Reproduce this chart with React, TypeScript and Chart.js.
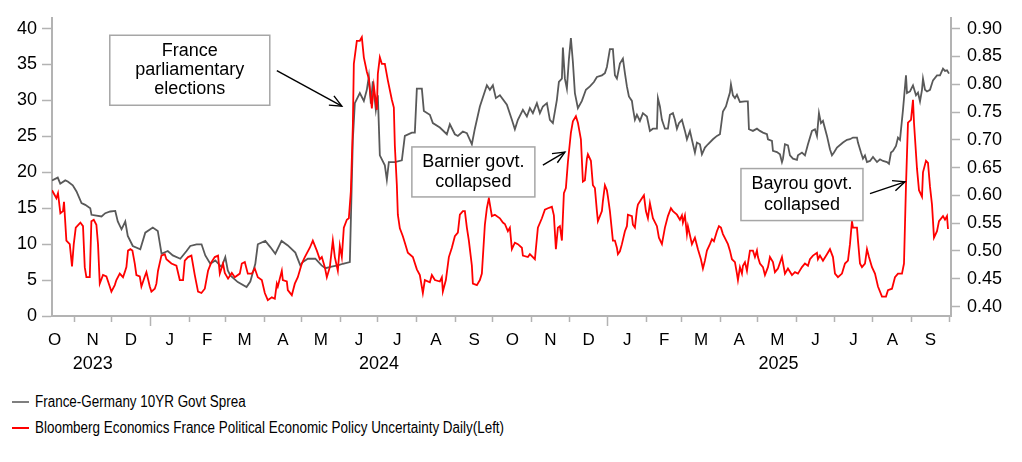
import React, { useEffect, useRef } from "react";
import { Chart, registerables } from "chart.js";

Chart.register(...registerables);

// x values are days counted from 2023-10-01 (day 0)
const START_YEAR = 2023;
const START_MONTH = 9; // October (0-based)
const X_MIN = 13.4;
const X_MAX = 732.4;

const monthLetters = ["O", "N", "D", "J", "F", "M", "A", "M", "J", "J", "A", "S", "O", "N", "D", "J", "F", "M", "A", "M", "J", "J", "A", "S"];
const yearLabels = ["2023", "2024", "2025"];
const leftTicks = [0, 5, 10, 15, 20, 25, 30, 35, 40];
const rightTicks = [0.4, 0.45, 0.5, 0.55, 0.6, 0.65, 0.7, 0.75, 0.8, 0.85, 0.9];
const legendLabels = [
  "France-Germany 10YR Govt Sprea",
  "Bloomberg Economics France Political Economic Policy Uncertainty Daily(Left)",
];

// France-Germany 10Y spread (right axis)
const spreadDays = [13.4, 18, 20, 24, 26, 30, 33, 37, 40, 44, 45, 53, 56, 60, 64, 66, 69, 72, 74, 78, 84, 88, 94, 98, 101, 106, 110, 116, 121, 124, 129, 133, 136, 140, 144, 149, 152, 154, 156, 162, 169, 172, 176, 178, 184, 188, 192, 197, 202, 208, 212, 214, 218, 224, 229, 232, 237, 242, 246, 251.6, 254, 255.6, 259.6, 262.8, 265.2, 266.8, 268.4, 270, 272.4, 274, 275.6, 279.6, 281.2, 282.8, 287.6, 293.2, 295.6, 301.2, 303.6, 305.2, 309.2, 310.8, 315.6, 318, 323.6, 329.2, 331.6, 335.6, 338, 342, 345.2, 349.2, 351.6, 355.6, 361.2, 363.6, 366, 368.4, 371.6, 377.2, 381.2, 383.6, 386, 390, 393.2, 395.6, 398, 401.2, 403.6, 406, 409.2, 411.6, 414, 417.2, 418.8, 421.2, 422, 423.6, 425.2, 426.8, 428.4, 430, 431.6, 434, 437.2, 440.4, 443.6, 446.8, 449.2, 453.2, 455.6, 457.2, 459.6, 462, 463.6, 465.2, 467.6, 470, 471.6, 473.2, 474.8, 477.2, 478, 479.6, 481.2, 483.6, 486, 489.2, 491.6, 494, 497.2, 498, 499.6, 501.2, 503.6, 506, 507.6, 510, 511.6, 513.2, 514.8, 517.2, 519.6, 521.2, 523.6, 525.2, 527.6, 529.2, 531.6, 533.2, 535.6, 538, 542, 545.2, 547.6, 550, 552.4, 553.9, 555.6, 556.4, 558, 559.6, 561.2, 563.6, 567.6, 569.9, 570.8, 574, 577.2, 579.6, 582, 585.2, 586, 589.2, 590, 593.2, 595.6, 597.2, 598, 599.6, 602, 603.6, 606, 609.2, 610, 613.2, 615.6, 618, 621.2, 623.6, 625.2, 626.8, 628.4, 630, 633.2, 635.6, 637.2, 638.8, 641.2, 646, 649.2, 651.6, 654, 657.2, 658, 660.4, 662, 663.6, 665.2, 667.6, 670, 673.2, 675.6, 678, 681.2, 682.8, 684.4, 686, 688.4, 690, 691.6, 694, 696.4, 697.2, 699.6, 702, 704.4, 706, 707.6, 709.2, 710, 711.6, 713.2, 715.6, 718, 721.2, 723.6, 726, 727.6, 729.2, 730.8];
const spreadValues = [0.627, 0.632, 0.621, 0.627, 0.625, 0.618, 0.607, 0.586, 0.583, 0.577, 0.565, 0.562, 0.568, 0.571, 0.572, 0.553, 0.539, 0.553, 0.527, 0.509, 0.503, 0.533, 0.542, 0.536, 0.495, 0.5, 0.492, 0.486, 0.5, 0.509, 0.512, 0.512, 0.492, 0.477, 0.483, 0.471, 0.489, 0.465, 0.456, 0.444, 0.435, 0.445, 0.477, 0.512, 0.518, 0.507, 0.495, 0.518, 0.51, 0.497, 0.474, 0.48, 0.486, 0.486, 0.474, 0.469, 0.472, 0.474, 0.477, 0.48, 0.7, 0.766, 0.784, 0.77, 0.79, 0.814, 0.765, 0.805, 0.754, 0.78, 0.672, 0.654, 0.628, 0.66, 0.66, 0.663, 0.707, 0.713, 0.713, 0.792, 0.792, 0.752, 0.745, 0.73, 0.722, 0.71, 0.728, 0.71, 0.707, 0.715, 0.712, 0.692, 0.72, 0.76, 0.798, 0.79, 0.798, 0.775, 0.78, 0.763, 0.736, 0.719, 0.736, 0.754, 0.742, 0.757, 0.748, 0.766, 0.748, 0.76, 0.766, 0.736, 0.73, 0.772, 0.804, 0.81, 0.866, 0.81, 0.792, 0.845, 0.883, 0.84, 0.784, 0.757, 0.77, 0.79, 0.796, 0.804, 0.813, 0.816, 0.82, 0.831, 0.863, 0.863, 0.816, 0.81, 0.837, 0.846, 0.82, 0.796, 0.778, 0.77, 0.757, 0.736, 0.745, 0.734, 0.748, 0.742, 0.716, 0.72, 0.72, 0.775, 0.76, 0.736, 0.72, 0.72, 0.745, 0.748, 0.736, 0.72, 0.73, 0.736, 0.716, 0.701, 0.716, 0.7, 0.677, 0.695, 0.692, 0.674, 0.686, 0.692, 0.701, 0.707, 0.71, 0.751, 0.76, 0.772, 0.785, 0.8, 0.78, 0.775, 0.781, 0.768, 0.769, 0.769, 0.719, 0.716, 0.72, 0.716, 0.713, 0.71, 0.701, 0.698, 0.68, 0.678, 0.674, 0.66, 0.666, 0.692, 0.69, 0.672, 0.666, 0.664, 0.672, 0.677, 0.672, 0.692, 0.716, 0.719, 0.707, 0.748, 0.73, 0.734, 0.707, 0.683, 0.672, 0.677, 0.686, 0.695, 0.7, 0.701, 0.704, 0.704, 0.695, 0.677, 0.666, 0.672, 0.66, 0.662, 0.669, 0.66, 0.665, 0.662, 0.66, 0.657, 0.677, 0.68, 0.689, 0.704, 0.7, 0.754, 0.816, 0.784, 0.787, 0.798, 0.78, 0.785, 0.769, 0.79, 0.81, 0.79, 0.787, 0.79, 0.807, 0.816, 0.816, 0.828, 0.824, 0.825, 0.819];

// Bloomberg Economics France political EPU (left axis)
const epuDays = [13.4, 15.6, 16.9, 18.2, 20.1, 22.2, 23, 24.9, 27.6, 29.4, 30.8, 32.4, 36.1, 38.2, 39.6, 40.9, 43.6, 44.9, 46.8, 48.9, 50.2, 51.6, 54.2, 56.9, 59.6, 60.9, 63.6, 64.9, 67.6, 70.2, 71.6, 72.9, 74.2, 76.1, 77.7, 79.6, 80.9, 83.6, 84.9, 87.6, 88.9, 91.6, 92.9, 95.6, 96.9, 98.2, 100.9, 103.6, 104.9, 108.9, 112.9, 115.6, 118.2, 119.6, 122.2, 124.9, 127.6, 130.2, 132.9, 135.6, 138.2, 140.9, 143.6, 146.2, 147.6, 150.2, 151.6, 154.2, 157.2, 159.6, 163.6, 165.2, 167.6, 170, 173.2, 175.6, 178, 181.2, 183.6, 186, 189.2, 191.6, 193.2, 194, 197.2, 198, 201.2, 202, 205.2, 207.6, 210, 213.2, 215.6, 219.6, 222, 225.2, 227.6, 229.2, 231.6, 233.2, 235.6, 238, 239.6, 242, 243.6, 245.2, 246.8, 249.2, 250.8, 252.4, 254, 254.8, 257.2, 259.6, 261.2, 262.8, 265.2, 266.8, 269.2, 270.8, 273.2, 274, 275.6, 277.2, 279.6, 282, 285.2, 286.8, 287.6, 289.2, 290, 291.6, 294, 295.6, 298, 302, 305.2, 307.6, 310, 311.6, 315.6, 317.2, 319.6, 323.6, 325.2, 326, 328.4, 330.8, 333.2, 335.6, 338, 339.6, 342, 343.6, 345.2, 346.8, 349.2, 350, 353.2, 355.6, 357.2, 359.6, 361.2, 362.8, 365.2, 367.6, 371.6, 374, 375.6, 378, 379.6, 381.2, 383.6, 386, 389.2, 390, 394, 395.6, 399.6, 402, 405.2, 407.6, 410, 413.2, 414.8, 416.4, 418, 419.6, 421.2, 422.8, 424.4, 426, 428.4, 430, 432.4, 434, 436.4, 438, 439.6, 441.2, 442, 444.4, 446, 447.6, 449.2, 450, 453.2, 454, 455.6, 457.2, 458, 459.6, 462, 463.6, 465.2, 466, 467.6, 469.2, 471.6, 473.2, 474, 477.2, 478, 479.6, 481.2, 482, 485.2, 486.8, 488.4, 490, 491.6, 494, 497.2, 498.8, 501.2, 503.6, 506, 508.4, 510, 513.2, 515.6, 517.2, 518, 519.6, 521.2, 522, 525.2, 527.6, 530, 532.4, 534, 535.6, 537.2, 539.6, 541.2, 542.8, 545.2, 546.8, 548.4, 550, 554, 555.6, 557.2, 559.6, 561.2, 562, 563.6, 565.2, 566, 567.6, 569.2, 570, 571.6, 574, 575.6, 577.2, 578, 579.6, 582, 583.6, 586, 587.6, 590, 591.6, 594, 597.2, 599.6, 602, 605.2, 607.6, 610, 613.2, 615.6, 618, 619.6, 622, 625.2, 626, 627.6, 630, 633.2, 635.6, 638, 639.6, 642, 645.2, 647.6, 650, 651.6, 653.2, 654, 657.2, 658, 659.6, 661.2, 663.6, 665.2, 666.8, 669.2, 671.6, 674, 677.2, 680.4, 682, 685.2, 687.6, 690, 693.2, 694.8, 696.4, 698, 700.4, 702, 702.8, 705.2, 706.8, 709.2, 710, 712.4, 714, 715.6, 717.2, 718.8, 721.2, 722.8, 726, 727.6, 729.2, 730];
const epuValues = [17.5, 16.8, 16.4, 17.1, 14.3, 14.6, 15.9, 10.5, 10.0, 6.9, 10.0, 12.3, 13.0, 12.5, 6.8, 5.4, 5.4, 13.2, 13.4, 12.7, 10.0, 4.5, 5.7, 5.5, 4.1, 3.4, 4.3, 5.0, 5.9, 5.4, 6.1, 6.8, 9.1, 9.3, 9.1, 7.3, 5.7, 5.5, 4.1, 5.5, 6.1, 4.1, 3.4, 3.8, 4.5, 6.3, 8.4, 8.6, 7.9, 7.3, 7.0, 5.0, 5.0, 7.7, 8.2, 8.4, 5.7, 3.4, 3.2, 3.8, 6.3, 7.5, 8.2, 8.4, 5.9, 7.3, 6.0, 5.2, 6.0, 5.4, 5.9, 7.3, 7.5, 5.9, 5.9, 6.6, 5.4, 5.0, 3.2, 2.2, 2.6, 2.4, 4.5, 4.1, 6.3, 5.0, 4.8, 3.6, 2.9, 4.5, 5.4, 7.3, 8.2, 9.5, 10.5, 9.1, 7.9, 8.2, 6.8, 5.4, 6.8, 10.5, 8.2, 6.3, 9.8, 8.2, 12.3, 13.4, 13.6, 17.3, 26.4, 35.1, 38.3, 38.3, 38.8, 36.0, 34.0, 33.0, 28.9, 32.0, 28.7, 33.7, 36.0, 35.1, 35.1, 32.8, 30.1, 29.0, 23.7, 18.2, 14.1, 12.2, 11.1, 10.2, 8.8, 8.2, 6.5, 5.7, 3.2, 5.0, 4.7, 5.7, 5.0, 4.8, 5.4, 3.4, 5.0, 8.2, 9.5, 11.1, 11.6, 14.1, 14.6, 14.6, 12.3, 10.5, 7.0, 4.5, 4.3, 5.0, 5.9, 12.7, 15.0, 16.4, 13.9, 14.1, 13.6, 13.0, 12.8, 11.8, 12.3, 9.3, 10.2, 10.0, 9.5, 8.4, 8.2, 8.6, 7.9, 12.3, 13.6, 14.8, 15.0, 15.2, 14.0, 9.3, 12.3, 12.5, 10.5, 17.1, 17.8, 21.4, 25.5, 27.1, 27.8, 26.9, 24.6, 18.7, 18.9, 21.9, 22.5, 21.6, 18.2, 17.8, 14.6, 13.2, 14.6, 16.0, 18.2, 17.5, 16.6, 14.6, 10.5, 10.5, 9.5, 8.6, 9.0, 10.0, 11.8, 12.5, 14.1, 13.9, 12.7, 12.3, 14.8, 15.5, 16.4, 16.8, 14.6, 13.6, 15.7, 13.6, 12.5, 10.9, 10.0, 12.3, 13.9, 15.0, 14.6, 14.1, 13.4, 14.0, 13.0, 14.0, 11.4, 12.5, 10.0, 10.9, 9.3, 7.9, 6.6, 7.7, 9.1, 10.0, 10.7, 10.4, 11.8, 12.5, 12.3, 11.4, 10.0, 9.1, 7.9, 7.5, 5.9, 5.0, 6.8, 5.9, 7.0, 7.5, 6.3, 7.3, 9.1, 9.1, 8.2, 9.1, 8.2, 7.3, 6.8, 5.7, 6.8, 8.2, 7.5, 6.1, 6.6, 8.2, 5.9, 6.6, 5.7, 6.1, 5.9, 6.8, 7.3, 7.0, 7.9, 8.4, 8.8, 7.9, 8.4, 7.7, 8.6, 9.3, 8.2, 5.9, 5.4, 5.9, 7.3, 7.7, 10.0, 13.2, 12.3, 12.3, 10.5, 7.3, 6.8, 7.3, 9.3, 8.2, 6.8, 5.9, 4.1, 2.7, 2.7, 3.6, 3.8, 5.4, 5.9, 5.9, 7.3, 18.2, 26.9, 27.3, 30.1, 26.9, 20.5, 17.5, 16.6, 20.0, 21.6, 21.3, 18.0, 15.5, 10.9, 11.8, 13.2, 13.9, 13.4, 13.9, 12.1];

// Call-out boxes, anchored in data space (day, left-axis value)
const callouts = [
  { lines: ["France", "parliamentary", "elections"], boxDay: 123.6, boxValue: 34.2, width: 160, height: 70, lineHeight: 19, fromDay: 193.2, fromValue: 34.15, toDay: 245.2, toValue: 29.2 },
  { lines: ["Barnier govt.", "collapsed"], boxDay: 350.4, boxValue: 20.05, width: 123, height: 50, lineHeight: 20, fromDay: 406, fromValue: 21.0, toDay: 423.6, toValue: 22.8 },
  { lines: ["Bayrou govt.", "collapsed"], boxDay: 613.2, boxValue: 16.9, width: 122, height: 52, lineHeight: 21, fromDay: 667.6, fromValue: 17.03, toDay: 695.6, toValue: 18.67 },
];

const FONT = '"Liberation Sans", Arial, Helvetica, sans-serif';
const AXIS_GRAY = "#b3b3b3";
const SPREAD_COLOR = "#595959";
const EPU_COLOR = "#ff0000";

const DAY_MS = 86400000;
const BASE = Date.UTC(START_YEAR, START_MONTH, 1);
const monthStarts: number[] = [];
const monthIsJan: boolean[] = [];
for (let i = 0; i <= monthLetters.length; i++) {
  const t = Date.UTC(START_YEAR, START_MONTH + i, 1);
  monthStarts.push(Math.round((t - BASE) / DAY_MS));
  monthIsJan.push(new Date(t).getUTCMonth() === 0);
}
const monthMids = monthLetters.map((_, i) => (monthStarts[i] + monthStarts[i + 1]) / 2);
const boundaryTicks = monthStarts.filter((d) => d >= X_MIN && d <= X_MAX);
const janSet = new Set(monthStarts.filter((_, i) => monthIsJan[i]));
const yearMids = yearLabels.map((y) => {
  const yr = Number(y);
  const ds = monthStarts.filter((_, i) => {
    const dt = new Date(Date.UTC(START_YEAR, START_MONTH + i, 1));
    return dt.getUTCFullYear() === yr || (dt.getUTCFullYear() === yr + 1 && dt.getUTCMonth() === 0);
  });
  return (Math.min(...ds) + Math.max(...ds)) / 2;
});

const calloutPlugin = {
  id: "callouts",
  afterDatasetsDraw(chart: any) {
    const { ctx, scales } = chart;
    const xs = scales.x;
    const ys = scales.y;
    ctx.save();
    for (const a of callouts) {
      const cx = xs.getPixelForValue(a.boxDay);
      const cy = ys.getPixelForValue(a.boxValue);
      const left = cx - a.width / 2;
      const top = cy - a.height / 2;
      ctx.fillStyle = "#ffffff";
      ctx.fillRect(left, top, a.width, a.height);
      ctx.strokeStyle = "#a6a6a6";
      ctx.lineWidth = 1.5;
      ctx.strokeRect(left, top, a.width, a.height);
      ctx.fillStyle = "#000000";
      ctx.font = `18px ${FONT}`;
      ctx.textAlign = "center";
      ctx.textBaseline = "middle";
      const n = a.lines.length;
      a.lines.forEach((t, i) => ctx.fillText(t, cx, cy + (i - (n - 1) / 2) * a.lineHeight));
      const x1 = xs.getPixelForValue(a.fromDay);
      const y1 = ys.getPixelForValue(a.fromValue);
      const x2 = xs.getPixelForValue(a.toDay);
      const y2 = ys.getPixelForValue(a.toValue);
      ctx.strokeStyle = "#000000";
      ctx.lineWidth = 1.4;
      ctx.beginPath();
      ctx.moveTo(x1, y1);
      ctx.lineTo(x2, y2);
      ctx.stroke();
      const ang = Math.atan2(y2 - y1, x2 - x1);
      const hl = 13;
      const ha = 0.42;
      ctx.beginPath();
      ctx.moveTo(x2 - hl * Math.cos(ang - ha), y2 - hl * Math.sin(ang - ha));
      ctx.lineTo(x2, y2);
      ctx.lineTo(x2 - hl * Math.cos(ang + ha), y2 - hl * Math.sin(ang + ha));
      ctx.stroke();
    }
    ctx.restore();
  },
};

export default function App() {
  const canvasRef = useRef<HTMLCanvasElement | null>(null);

  useEffect(() => {
    if (!canvasRef.current) return;
    const chart = new Chart(canvasRef.current, {
      type: "line",
      data: {
        datasets: [
          {
            label: legendLabels[1],
            data: epuDays.map((d, i) => ({ x: d, y: epuValues[i] })),
            yAxisID: "y",
            xAxisID: "x",
            borderColor: EPU_COLOR,
            borderWidth: 1.8,
            pointRadius: 0,
            tension: 0,
            order: 0,
          },
          {
            label: legendLabels[0],
            data: spreadDays.map((d, i) => ({ x: d, y: spreadValues[i] })),
            yAxisID: "y1",
            xAxisID: "x",
            borderColor: SPREAD_COLOR,
            borderWidth: 1.8,
            pointRadius: 0,
            tension: 0,
            order: 1,
          },
        ],
      },
      options: {
        responsive: false,
        animation: false,
        events: [],
        layout: { padding: { top: 13, left: 0, right: 0, bottom: 0 } },
        plugins: { legend: { display: false }, tooltip: { enabled: false } },
        scales: {
          x: {
            type: "linear",
            position: "bottom",
            min: X_MIN,
            max: X_MAX,
            bounds: "data",
            weight: 0,
            afterBuildTicks: (s: any) => {
              s.ticks = boundaryTicks.map((v) => ({ value: v }));
            },
            afterFit: (s: any) => {
              s.height = 10;
            },
            ticks: { display: false, autoSkip: false, maxRotation: 0 },
            grid: {
              drawOnChartArea: false,
              drawTicks: true,
              tickLength: 10,
              tickColor: AXIS_GRAY,
              tickWidth: 1.5,
              tickBorderDash: (c: any) => (c.tick && janSet.has(c.tick.value) ? [] : [5, 30]),
            },
            border: { display: true, color: AXIS_GRAY, width: 2 },
          },
          xm: {
            type: "linear",
            position: "bottom",
            min: X_MIN,
            max: X_MAX,
            bounds: "data",
            weight: 1,
            afterBuildTicks: (s: any) => {
              s.ticks = monthMids.map((v) => ({ value: v }));
            },
            afterFit: (s: any) => {
              s.height = 22;
            },
            ticks: {
              autoSkip: false,
              maxRotation: 0,
              padding: 4,
              color: "#000",
              font: { family: FONT, size: 17 },
              callback: (_v: any, i: number) => monthLetters[i],
            },
            grid: { display: false, drawTicks: false },
            border: { display: false },
          },
          xy: {
            type: "linear",
            position: "bottom",
            min: X_MIN,
            max: X_MAX,
            bounds: "data",
            weight: 2,
            afterBuildTicks: (s: any) => {
              s.ticks = yearMids.map((v) => ({ value: v }));
            },
            afterFit: (s: any) => {
              s.height = 32;
            },
            ticks: {
              autoSkip: false,
              maxRotation: 0,
              padding: 5,
              color: "#000",
              font: { family: FONT, size: 18 },
              callback: (_v: any, i: number) => yearLabels[i],
            },
            grid: { display: false, drawTicks: false },
            border: { display: false },
          },
          y: {
            type: "linear",
            position: "left",
            min: 0,
            max: 41.5,
            afterBuildTicks: (s: any) => {
              s.ticks = leftTicks.map((v) => ({ value: v }));
            },
            afterFit: (s: any) => {
              s.width = 52;
            },
            ticks: {
              padding: 5,
              color: "#000",
              font: { family: FONT, size: 18 },
              callback: (v: any) => String(v),
            },
            grid: { drawOnChartArea: false, tickLength: 10, tickColor: AXIS_GRAY, tickWidth: 1.5 },
            border: { display: true, color: AXIS_GRAY, width: 2 },
          },
          y1: {
            type: "linear",
            position: "right",
            min: 0.383,
            max: 0.9195,
            afterBuildTicks: (s: any) => {
              s.ticks = rightTicks.map((v) => ({ value: v }));
            },
            afterFit: (s: any) => {
              s.width = 71;
            },
            ticks: {
              padding: 7,
              color: "#000",
              font: { family: FONT, size: 18 },
              callback: (v: any) => Number(v).toFixed(2),
            },
            grid: { drawOnChartArea: false, tickLength: 9, tickColor: AXIS_GRAY, tickWidth: 1.5 },
            border: { display: true, color: AXIS_GRAY, width: 2 },
          },
        },
      } as any,
      plugins: [calloutPlugin],
    });
    return () => chart.destroy();
  }, []);

  const legendColors = ["#7f7f7f", EPU_COLOR];

  return (
    <div style={{ marginTop: -8, marginLeft: -8, marginRight: -8, marginBottom: 0, width: 1022, fontFamily: FONT }}>
      <canvas ref={canvasRef} width={1022} height={380} style={{ display: "block" }} />
      <div style={{ paddingTop: 9, paddingLeft: 12, paddingBottom: 4 }}>
        {legendLabels.map((label, i) => (
          <div key={label} style={{ display: "flex", alignItems: "center", height: 26 }}>
            <span style={{ display: "inline-block", width: 17, height: 2, background: legendColors[i] }} />
            <span
              style={{
                marginLeft: 6,
                fontSize: 16,
                color: "#000",
                whiteSpace: "nowrap",
                display: "inline-block",
                transform: "scaleX(0.84)",
                transformOrigin: "left center",
              }}
            >
              {label}
            </span>
          </div>
        ))}
      </div>
    </div>
  );
}
